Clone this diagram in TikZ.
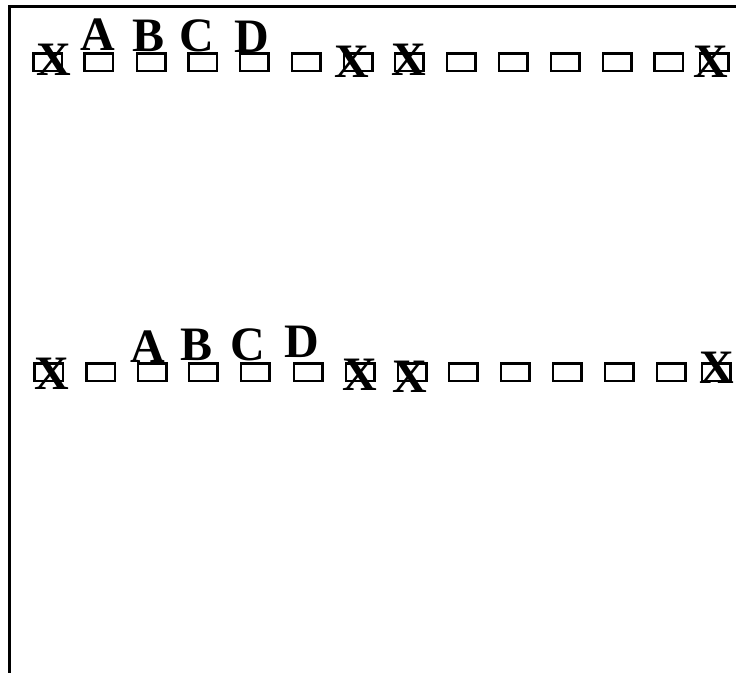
\documentclass[tikz,border=0pt]{standalone}
\usepackage{fontspec}
\setmainfont{Liberation Serif}[BoldFont={Liberation Serif Bold}]
\usetikzlibrary{positioning}

\begin{document}
\begin{tikzpicture}[x=1pt, y=-1pt, slot/.style={rectangle, draw, line width=2.5pt, minimum width=28.5pt, minimum height=17.5pt, inner sep=0pt}, tag/.style={font=\fontsize{48}{48}\selectfont\bfseries, inner sep=0pt, anchor=base}]
\clip (0,0) rectangle (736,672);
\draw[line width=3pt] (9.5,690) -- (9.5,6) -- (750,6);
% upper row
\foreach \i/\x in {1/47.5, 2/98.5, 3/151, 4/202.5, 5/254, 6/306, 7/358, 8/409, 9/461, 10/513, 11/565, 12/617, 13/668.5, 14/714}
  \node[slot] (u\i) at (\x,62) {};
\node[tag] (uA) at (98,50) {A};
\node[tag] (uB) at (149,51) {B};
\node[tag] (uC) at (197,51) {C};
\node[tag] (uD) at (252,52) {D};
\node[tag] (ux1) at (53.5,75) {X};
\node[tag] (ux7) at (352,77) {X};
\node[tag] (ux8) at (408.5,75) {X};
\node[tag] (ux14) at (711,77) {X};
% lower row
\foreach \i/\x in {1/48.5, 2/100.5, 3/152, 4/203, 5/255, 6/308, 7/360, 8/412, 9/463, 10/515, 11/567, 12/619, 13/671, 14/716}
  \node[slot] (l\i) at (\x,372) {};
\node[tag] (lA) at (148,362) {A};
\node[tag] (lB) at (197,360) {B};
\node[tag] (lC) at (248,360) {C};
\node[tag] (lD) at (302,357) {D};
\node[tag] (lx1) at (51.5,389) {X};
\node[tag] (lx7) at (360,390) {X};
\node[tag] (lx8) at (410,392) {X};
\node[tag] (lx14) at (717,383) {X};
\end{tikzpicture}
\end{document}
